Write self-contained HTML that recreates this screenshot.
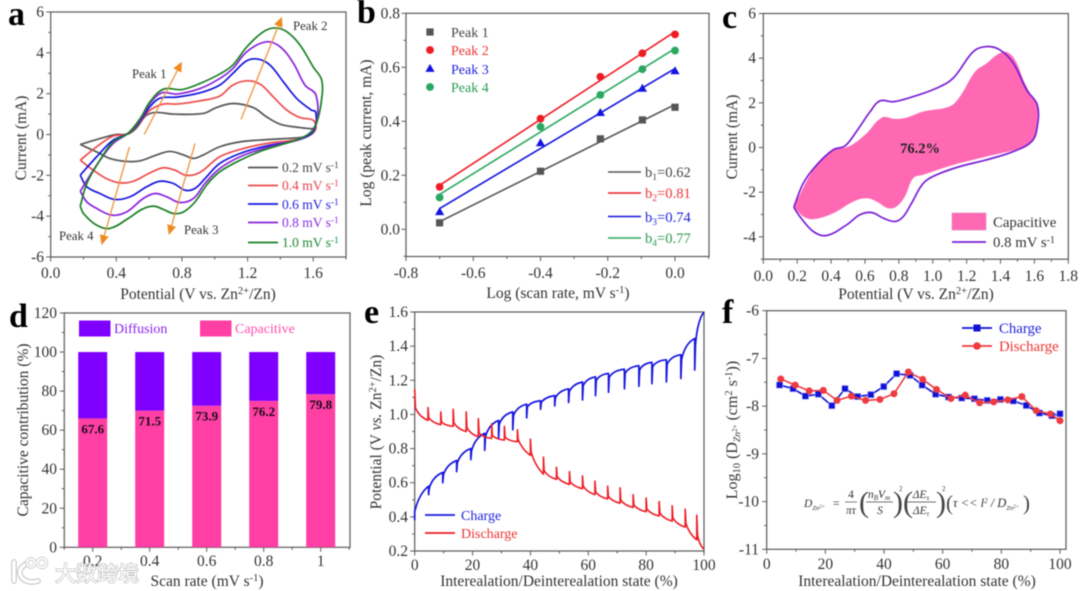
<!DOCTYPE html>
<html lang="en">
<head>
<meta charset="utf-8">
<title>Electrochemical kinetics figure</title>
<style>
html,body{margin:0;padding:0;background:#fff;width:1080px;height:591px;overflow:hidden}
svg{display:block;filter:blur(.42px)}
text{font-family:"Liberation Serif","Noto Serif CJK SC",serif;fill:#333}
.t{font-size:15.5px}
.l{font-size:13.5px}
.pk{font-size:12.8px}
.lb{font-size:14px}
.lb2{font-size:14.6px}
.lc{font-size:14.8px}
.k{font-size:34px;font-weight:bold;fill:#000}
.wm{font-family:"Liberation Sans","Noto Sans CJK SC",sans-serif;font-size:21px;fill:#fff;stroke:#bbb;stroke-width:1.4;paint-order:stroke}
.fm{font-size:11.5px;font-style:italic;fill:#333}
.fp{font-size:30px;font-weight:normal;fill:#444;font-style:normal}
</style>
</head>
<body>
<svg id="fig" xmlns="http://www.w3.org/2000/svg" width="1080" height="591" viewBox="0 0 1080 591">
<rect width="1080" height="591" fill="#fff"/>

<g id="pa"></g>
<g id="pb"></g>
<g id="pc"></g>
<g id="pd"></g>
<g id="pe"></g>
<g id="pf"></g>

<text class="k" x="8" y="25">a</text>
<text class="k" x="357" y="23">b</text>
<text class="k" x="722" y="28">c</text>
<text class="k" x="9" y="327">d</text>
<text class="k" x="364" y="323">e</text>
<text class="k" x="722" y="323">f</text>

<!-- axis titles -->
<text class="t" x="198" y="299" text-anchor="middle">Potential (V vs. Zn<tspan dy="-5" font-size="10.5">2+</tspan><tspan dy="5">/Zn)</tspan></text>
<text class="t" transform="translate(26,138) rotate(-90)" text-anchor="middle">Current (mA)</text>
<text class="t" x="558" y="298" text-anchor="middle">Log (scan rate, mV s<tspan dy="-5" font-size="10.5">-1</tspan><tspan dy="5">)</tspan></text>
<text class="t" transform="translate(371,133) rotate(-90)" text-anchor="middle">Log (peak current, mA)</text>
<text class="t" x="916" y="299" text-anchor="middle">Potential (V vs. Zn<tspan dy="-5" font-size="10.5">2+</tspan><tspan dy="5">/Zn)</tspan></text>
<text class="t" transform="translate(737,137) rotate(-90)" text-anchor="middle">Current (mA)</text>
<text class="t" x="207" y="586" text-anchor="middle">Scan rate (mV s<tspan dy="-5" font-size="10.5">-1</tspan><tspan dy="5">)</tspan></text>
<text class="t" transform="translate(28,430) rotate(-90)" text-anchor="middle">Capacitive contribution (%)</text>
<text class="t" x="559" y="586" text-anchor="middle">Interealation/Deinterealation state (%)</text>
<text class="t" transform="translate(381,432) rotate(-90)" text-anchor="middle">Potential (V <tspan font-style="italic">vs.</tspan> Zn<tspan dy="-5" font-size="10.5">2+</tspan><tspan dy="5">/Zn)</tspan></text>
<text class="t" x="917" y="586" text-anchor="middle">Interealation/Deinterealation state (%)</text>
<text transform="translate(737,430) rotate(-90)" text-anchor="middle" font-size="16">Log<tspan dy="3" font-size="10.5">10</tspan><tspan dy="-3"> (D</tspan><tspan dy="3" font-size="9.5" font-style="italic">Zn</tspan><tspan dy="-3" font-size="7">2+</tspan><tspan dy="0"> (cm</tspan><tspan dy="-5" font-size="10.5">2</tspan><tspan dy="5"> s</tspan><tspan dy="-5" font-size="10.5">-1</tspan><tspan dy="5">))</tspan></text>

<!-- panel a annotations -->
<g>
<text class="pk" x="132" y="78">Peak 1</text>
<text class="pk" x="293" y="30">Peak 2</text>
<text class="pk" x="184" y="234">Peak 3</text>
<text class="pk" x="59" y="240">Peak 4</text>
</g>
<g>
<text class="l" x="282" y="172" style="fill:#444">0.2 mV s<tspan dy="-4" font-size="9.5">-1</tspan></text>
<text class="l" x="282" y="190" style="fill:#e8404a">0.4 mV s<tspan dy="-4" font-size="9.5">-1</tspan></text>
<text class="l" x="282" y="209" style="fill:#2222dd">0.6 mV s<tspan dy="-4" font-size="9.5">-1</tspan></text>
<text class="l" x="282" y="227" style="fill:#8a2be2">0.8 mV s<tspan dy="-4" font-size="9.5">-1</tspan></text>
<text class="l" x="282" y="247" style="fill:#1a8a30">1.0 mV s<tspan dy="-4" font-size="9.5">-1</tspan></text>
</g>

<!-- panel b legend -->
<g>
<text class="lb" x="451" y="37" style="fill:#444">Peak 1</text>
<text class="lb" x="451" y="55" style="fill:#ee3333">Peak 2</text>
<text class="lb" x="451" y="74" style="fill:#2222dd">Peak 3</text>
<text class="lb" x="451" y="92" style="fill:#2a9a50">Peak 4</text>
<text class="lb2" x="645" y="177" style="fill:#444">b<tspan dy="3" font-size="9.5">1</tspan><tspan dy="-3">=0.62</tspan></text>
<text class="lb2" x="645" y="198" style="fill:#ee3333">b<tspan dy="3" font-size="9.5">2</tspan><tspan dy="-3">=0.81</tspan></text>
<text class="lb2" x="645" y="222" style="fill:#2222dd">b<tspan dy="3" font-size="9.5">3</tspan><tspan dy="-3">=0.74</tspan></text>
<text class="lb2" x="645" y="243" style="fill:#2a9a50">b<tspan dy="3" font-size="9.5">4</tspan><tspan dy="-3">=0.77</tspan></text>
</g>

<!-- panel c legend -->
<g>
<rect x="952" y="213" width="34" height="17" fill="#ff69b4" stroke="#d98ab8" stroke-width=".6"/>
<text class="lc" x="993" y="227">Capacitive</text>
<line x1="952" y1="242" x2="986" y2="242" stroke="#7a1fd8" stroke-width="1.7"/>
<text class="lc" x="993" y="247">0.8 mV s<tspan dy="-4" font-size="10">-1</tspan></text>
</g>

<!-- panel e legend -->
<g>
<line x1="425" y1="515" x2="455" y2="515" stroke="#1818e0" stroke-width="1.7"/>
<text class="lb" x="461" y="520" style="fill:#2222dd">Charge</text>
<line x1="425" y1="533" x2="455" y2="533" stroke="#ee1c24" stroke-width="1.7"/>
<text class="lb" x="461" y="538" style="fill:#ee3333">Discharge</text>
</g>

<!-- panel f legend -->
<g>
<line x1="962" y1="328" x2="992" y2="328" stroke="#1010d8" stroke-width="1.7"/>
<rect x="973.5" y="324.5" width="7" height="7" fill="#1010d8"/>
<text class="lc" x="999" y="333" style="fill:#2222dd">Charge</text>
<line x1="962" y1="346" x2="992" y2="346" stroke="#ee3a40" stroke-width="1.7"/>
<circle cx="977" cy="346" r="3.8" fill="#ee3a40"/>
<text class="lc" x="999" y="351" style="fill:#ee3333">Discharge</text>
</g>

<!-- panel f formula -->
<g>
<text class="fm" x="804" y="507">D<tspan dy="3" font-size="6.5">Zn</tspan><tspan dy="-2" font-size="5">2+</tspan></text>
<text class="fm" x="833" y="507" style="font-style:normal">=</text>
<text class="fm" x="851" y="498" text-anchor="middle" style="font-style:normal">4</text>
<text class="fm" x="851" y="514" text-anchor="middle">πτ</text>
<line x1="845" y1="502" x2="857" y2="502" stroke="#444" stroke-width=".7"/>
<text class="fp" x="859" y="512">(</text>
<text class="fm" x="879" y="498" text-anchor="middle">n<tspan dy="2" font-size="7">B</tspan><tspan dy="-2">V</tspan><tspan dy="2" font-size="7">m</tspan></text>
<text class="fm" x="880" y="514" text-anchor="middle">S</text>
<line x1="866" y1="502" x2="893" y2="502" stroke="#444" stroke-width=".7"/>
<text class="fp" x="893" y="512">)</text>
<text class="fm" x="899" y="491" style="font-size:7px;font-style:normal">2</text>
<text class="fp" x="903" y="512">(</text>
<text class="fm" x="921" y="498" text-anchor="middle">ΔE<tspan dy="2" font-size="7">s</tspan></text>
<text class="fm" x="921" y="514" text-anchor="middle">ΔE<tspan dy="2" font-size="7">τ</tspan></text>
<line x1="907" y1="502" x2="936" y2="502" stroke="#444" stroke-width=".7"/>
<text class="fp" x="936" y="512">)</text>
<text class="fm" x="942" y="491" style="font-size:7px;font-style:normal">2</text>
<text class="fp" x="946" y="510" style="font-size:21px">(</text>
<text class="fm" x="953" y="507" style="font-size:12.5px">τ &lt;&lt; l<tspan dy="-4" font-size="7">2</tspan><tspan dy="4"> / D</tspan><tspan dy="3" font-size="6.5">Zn</tspan><tspan dy="-2" font-size="5">2+</tspan></text>
<text class="fp" x="1023" y="510" style="font-size:21px">)</text>
</g>

<g id="pcl">
<text x="920" y="153" text-anchor="middle" font-size="14.5" font-weight="bold" style="fill:#222">76.2%</text>
</g>

<!-- watermark -->
<g id="wm" opacity=".9">
<path d="M14 562 V581 M26 564 Q16 570 22 578 Q28 584 38 581" fill="none" stroke="#bbb" stroke-width="5.5" stroke-linecap="round"/>
<path d="M14 562 V581 M26 564 Q16 570 22 578 Q28 584 38 581" fill="none" stroke="#fff" stroke-width="3.5" stroke-linecap="round"/>
<circle cx="31" cy="563" r="4" fill="none" stroke="#bbb" stroke-width="3.4"/>
<circle cx="42" cy="563" r="4.5" fill="none" stroke="#bbb" stroke-width="3.4"/>
<circle cx="31" cy="563" r="4" fill="none" stroke="#fff" stroke-width="2"/>
<circle cx="42" cy="563" r="4.5" fill="none" stroke="#fff" stroke-width="2"/>
<text class="wm" x="55" y="581">大数跨境</text>
</g>
</svg>

<script>
/* ---------- panel a: CV curves (V, mA) ---------- */
const aXTicks=[0,0.4,0.8,1.2,1.6];
const aYTicks=[-6,-4,-2,0,2,4,6];
const cv02V=[.18,.30,.40,.47,.52,.585,.646,.748,.93,1.01,1.11,1.235,1.315,1.40,1.52,1.59,1.61,1.61,1.58,1.52,1.315,1.154,1.03,.93,.87,.81,.727,.646,.545,.463,.36,.28,.18];
const cv02I=[-.49,-.2,0,.02,.3,.95,1.08,1.0,1.03,1.32,1.52,1.32,.87,.5,.34,.28,.3,.18,-.03,-.15,-.25,-.36,-.6,-1.0,-1.17,-1.0,-.83,-1.0,-1.29,-1.32,-1.17,-.85,-.49];
const cv04V=[.18,.28,.38,.47,.545,.605,.687,.768,.91,1.03,1.11,1.195,1.276,1.357,1.44,1.52,1.6,1.617,1.61,1.57,1.48,1.315,1.154,1.03,.93,.88,.82,.758,.687,.605,.504,.423,.34,.26,.18];
const cv04I=[-1.26,-.6,-.08,.05,.62,1.19,1.49,1.49,1.65,1.88,2.42,2.63,2.47,1.84,1.19,.83,.7,.38,.2,-.08,-.28,-.44,-.73,-1.09,-1.75,-1.96,-1.99,-1.75,-1.63,-1.88,-2.29,-2.37,-2.16,-1.75,-1.26];
const cv06V=[.18,.28,.38,.47,.545,.605,.666,.768,.91,1.03,1.11,1.195,1.266,1.337,1.418,1.5,1.59,1.615,1.61,1.56,1.46,1.315,1.154,1.03,.94,.88,.82,.748,.666,.585,.484,.39,.30,.22,.18];
const cv06I=[-1.99,-1.09,-.28,.05,.67,1.36,1.78,1.83,2.04,2.42,2.99,3.61,3.69,3.4,2.58,1.76,1.19,1.11,.29,-.11,-.36,-.56,-.93,-1.42,-2.16,-2.64,-2.73,-2.4,-2.29,-2.56,-3.05,-3.18,-2.89,-2.56,-1.99];
const cv08V=[.18,.28,.38,.47,.545,.605,.677,.768,.91,1.03,1.11,1.195,1.315,1.40,1.48,1.55,1.617,1.617,1.55,1.44,1.315,1.154,1.03,.94,.87,.788,.707,.636,.565,.463,.372,.28,.22,.18];
const cv08I=[-2.78,-1.5,-.44,.05,.73,1.52,2.04,1.98,2.25,2.74,3.23,4.05,4.54,4.29,3.48,2.42,1.93,.54,-.11,-.41,-.64,-1.09,-1.67,-2.4,-3.13,-3.33,-3.05,-2.89,-3.13,-3.79,-3.95,-3.62,-3.3,-2.78];
const cv10V=[.18,.22,.30,.38,.47,.545,.605,.687,.8,.91,1.03,1.11,1.195,1.296,1.367,1.44,1.52,1.6,1.652,1.648,1.62,1.59,1.52,1.418,1.296,1.154,1.03,.95,.88,.81,.748,.687,.626,.555,.473,.36,.28,.2,.18];
const cv10I=[-3.51,-2.4,-1.26,-.36,.05,.78,1.6,2.22,2.2,2.5,2.96,3.4,4.29,5.03,5.22,5.03,4.38,3.31,2.66,1.52,.54,.13,-.2,-.47,-.77,-1.26,-1.83,-2.48,-3.3,-3.79,-3.87,-3.67,-3.51,-3.67,-4.11,-4.6,-4.44,-3.87,-3.51];
const aLegendRates=['0.2','0.4','0.6','0.8','1.0'];

/* ---------- panel b ---------- */
const bXTicks=[-0.8,-0.6,-0.4,-0.2,0];
const bYTicks=[0,0.2,0.4,0.6,0.8];
const logRate=[-0.7,-0.4,-0.222,-0.097,0];
const bPeak1=[.024,.215,.335,.405,.452];
const bPeak2=[.157,.41,.565,.652,.722];
const bPeak3=[.065,.32,.432,.522,.587];
const bPeak4=[.118,.38,.498,.593,.662];

/* ---------- panel c ---------- */
const cXTicks=[0,0.2,0.4,0.6,0.8,1.0,1.2,1.4,1.6,1.8];
const cYTicks=[-4,-2,0,2,4,6];
const capV=[.18,.295,.393,.423,.472,.53,.61,.70,.777,.846,.944,1.10,1.16,1.25,1.32,1.387,1.436,1.485,1.544,1.613,1.62,1.613,1.594,1.515,1.318,1.12,.944,.885,.836,.787,.738,.669,.61,.531,.413,.295,.236,.18];
const capI=[-2.64,-1,-.18,-.06,-.03,.15,.64,1.34,1.28,1.34,1.61,1.84,2.28,3.4,3.78,4.19,4.27,3.93,2.88,1.94,1.9,.94,.34,-.03,-.4,-.78,-1.22,-1.37,-2.19,-2.64,-2.72,-2.42,-2.27,-2.42,-2.94,-3.21,-3.09,-2.64];
const scanV=[.18,.236,.315,.413,.482,.55,.63,.689,.767,.885,1.023,1.12,1.24,1.318,1.397,1.475,1.554,1.617,1.617,1.584,1.475,1.318,1.16,1.023,.944,.875,.826,.777,.708,.639,.57,.492,.374,.295,.216,.18];
const scanI=[-2.67,-1.6,-.78,-.1,.07,.72,1.6,2.09,2.05,2.28,2.66,3.1,4.3,4.52,4.37,3.78,2.58,1.91,.94,.27,-.18,-.55,-.85,-1.22,-1.6,-2.49,-3.09,-3.31,-3.16,-2.91,-3.01,-3.46,-3.94,-3.76,-3.09,-2.67];

/* ---------- panel d ---------- */
const dCategories=['0.2','0.4','0.6','0.8','1'];
const dCapacitive=[66,70,72.5,75,78.4];
const dDiffusion=[34,30,27.5,25,21.6];
const dPrinted=['67.6','71.5','73.9','76.2','79.8'];
const dYTicks=[0,20,40,60,80,100,120];

/* ---------- panel e ---------- */
const eXTicks=[0,20,40,60,80,100];
const eYTicks=[0.2,0.4,0.6,0.8,1.0,1.2,1.4,1.6];
const chargeX=[0,4.8,9.7,14.5,19.4,24.2,29,33.9,38.7,43.5,48.4,53.2,58,62.5,67,72.5,77.5,82,87,92,96.8,100];
const chargePeak=[.43,.58,.66,.73,.80,.89,.965,1.015,1.06,1.08,1.11,1.15,1.19,1.22,1.24,1.265,1.285,1.305,1.32,1.35,1.445,1.6];
const chargeLow=[.38,.53,.60,.665,.735,.79,.86,.91,.98,1.03,1.05,1.07,1.085,1.11,1.13,1.15,1.165,1.18,1.19,1.21,1.26,1.6];
const dischargeX=[0,4.6,9,13.3,17.8,22,26.6,31,35.5,40,44.5,49,53.5,58,62.3,66.7,71,75.5,80,84.5,89,93.5,97.5,100];
const dischargeBase=[1.01,.965,.94,.93,.90,.87,.86,.85,.84,.76,.65,.62,.59,.565,.53,.505,.48,.455,.43,.405,.375,.34,.265,.21];
const dischargeTop=[1.15,1.04,1.015,1.03,1.015,.975,.945,.93,.91,.855,.75,.69,.665,.64,.61,.58,.57,.53,.51,.49,.465,.445,.41,.21];

/* ---------- panel f ---------- */
const fXTicks=[0,20,40,60,80,100];
const fYTicks=[-11,-10,-9,-8,-7,-6];
const fChargeX=[4.4,9,13.2,17.6,22.2,26.7,31,35.5,39.9,44.3,48.9,53,57.6,62,66.5,70.8,75.2,79.7,84.1,88.5,93,97.2,100];
const fChargeY=[-7.557,-7.634,-7.79,-7.75,-7.99,-7.634,-7.80,-7.76,-7.59,-7.32,-7.355,-7.56,-7.75,-7.81,-7.83,-7.845,-7.88,-7.86,-7.89,-7.985,-8.145,-8.2,-8.16];
const fDischargeX=[4.8,9.7,14.5,19.3,24,28.9,33.7,38.6,43.4,48.3,53.2,57.9,62.8,67.7,72.6,77.4,82.2,87,91.9,96.7,100];
const fDischargeY=[-7.43,-7.56,-7.68,-7.67,-7.88,-7.79,-7.88,-7.86,-7.74,-7.285,-7.44,-7.65,-7.84,-7.77,-7.93,-7.91,-7.87,-7.80,-8.095,-8.165,-8.305];

/* ---------- helpers ---------- */
const NS='http://www.w3.org/2000/svg';
const FRAME='#5a5a5a';
function add(parent,tag,attrs,name,txt){
  const el=document.createElementNS(NS,tag);
  for(const k in attrs) el.setAttribute(k,attrs[k]);
  
  
  if(txt!==undefined) el.textContent=txt;
  parent.appendChild(el);
  return el;
}
function scale(d0,d1,r0,r1){return v=>r0+(v-d0)*(r1-r0)/(d1-d0);}
/* spline whose tangents are unit-direction, sized to each segment, so uneven point spacing does not kink */
function smooth(xs,ys,sx,sy,k){
  const p=xs.map((x,i)=>[sx(x),sy(ys[i])]);
  const n=p.length;
  const dir=i=>{
    const a=p[Math.max(i-1,0)],c=p[Math.min(i+1,n-1)];
    const dx=c[0]-a[0],dy=c[1]-a[1],m=Math.hypot(dx,dy)||1;
    return [dx/m,dy/m];
  };
  let d='M'+p[0][0].toFixed(2)+' '+p[0][1].toFixed(2);
  for(let i=0;i<n-1;i++){
    const b=p[i],c=p[i+1],L=Math.hypot(c[0]-b[0],c[1]-b[1])*k,u=dir(i),v=dir(i+1);
    d+=' C'+(b[0]+u[0]*L).toFixed(2)+' '+(b[1]+u[1]*L).toFixed(2)+' '+
       (c[0]-v[0]*L).toFixed(2)+' '+(c[1]-v[1]*L).toFixed(2)+' '+c[0].toFixed(2)+' '+c[1].toFixed(2);
  }
  return d;
}
function polyline(xs,ys,sx,sy){
  return xs.map((x,i)=>(i?'L':'M')+sx(x).toFixed(2)+' '+sy(ys[i]).toFixed(2)).join(' ');
}
function frame(g,px,sx,sy,o){
  add(g,'rect',{x:px.l,y:px.t,width:px.r-px.l,height:px.b-px.t,fill:'none',stroke:FRAME,'stroke-width':1.2},o.id+'-plot-frame');
  const tick=(x1,y1,x2,y2,n)=>add(g,'line',{x1,y1,x2,y2,stroke:FRAME,'stroke-width':1},n);
  o.xMajor.forEach(v=>tick(sx(v),px.b,sx(v),px.b+4.5,o.id+'-x-tick'));
  o.xMinor.forEach(v=>tick(sx(v),px.b,sx(v),px.b+2.5,o.id+'-x-minor-tick'));
  o.yMajor.forEach(v=>tick(px.l,sy(v),px.l-4.5,sy(v),o.id+'-y-tick'));
  o.yMinor.forEach(v=>tick(px.l,sy(v),px.l-2.5,sy(v),o.id+'-y-minor-tick'));
  o.xMajor.forEach((v,i)=>add(g,'text',{x:sx(v),y:o.xBase,'text-anchor':'middle','font-size':15.5},o.id+'-x-tick-label',o.xFmt(v,i)));
  o.yMajor.forEach((v,i)=>add(g,'text',{x:o.yRight,y:sy(v)+5,'text-anchor':'end','font-size':15.5},o.id+'-y-tick-label',o.yFmt(v,i)));
}
function mids(t){const m=[];for(let i=0;i<t.length-1;i++)m.push((t[i]+t[i+1])/2);return m;}
function fit(xs,ys){
  const n=xs.length,mx=xs.reduce((a,b)=>a+b)/n,my=ys.reduce((a,b)=>a+b)/n;
  let sxy=0,sxx=0;xs.forEach((x,i)=>{sxy+=(x-mx)*(ys[i]-my);sxx+=(x-mx)*(x-mx);});
  const m=sxy/sxx;return x=>my+m*(x-mx);
}
const f1=v=>v.toFixed(1);
const f0=v=>String(v);

/* ---------- panel a ---------- */
(function(){
  const g=document.getElementById('pa');
  const px={l:50.7,r:346,t:12,b:257};
  const sx=scale(0,1.8,px.l,px.r),sy=scale(-6,6,px.b,px.t);
  frame(g,px,sx,sy,{id:'a',xMajor:aXTicks,xMinor:mids(aXTicks).concat([1.8]),yMajor:aYTicks,yMinor:mids(aYTicks),xBase:278,yRight:44,xFmt:f1,yFmt:f0});
  const curves=[[cv02V,cv02I,'#555555','curve-0-2'],[cv04V,cv04I,'#ee4b4b','curve-0-4'],[cv06V,cv06I,'#1414e0','curve-0-6'],[cv08V,cv08I,'#8a22dd','curve-0-8'],[cv10V,cv10I,'#1a8025','curve-1-0']];
  curves.forEach(c=>add(g,'path',{d:smooth(c[0],c[1],sx,sy,.35),fill:'none',stroke:c[2],'stroke-width':1.7,'stroke-linejoin':'round'},c[3]));
  curves.forEach((c,i)=>{
    const yy=[167.5,185.5,204,222.5,242.5][i];
    add(g,'line',{x1:248,y1:yy,x2:278,y2:yy,stroke:c[2],'stroke-width':1.7},'legend-line-'+aLegendRates[i]);
  });
  const arrows=[[.57,-.0,.80,3.57,'arrow-peak-1'],[1.16,.74,1.41,5.77,'arrow-peak-2'],[.88,-.44,.72,-4.93,'arrow-peak-3'],[.48,-.61,.31,-5.42,'arrow-peak-4']];
  arrows.forEach(a=>{
    const x1=sx(a[0]),y1=sy(a[1]),x2=sx(a[2]),y2=sy(a[3]);
    const ang=Math.atan2(y2-y1,x2-x1),L=10,W=4.5;
    const bx=x2-L*Math.cos(ang),by=y2-L*Math.sin(ang);
    add(g,'line',{x1,y1,x2:bx,y2:by,stroke:'#f0923a','stroke-width':1.3},a[4]);
    add(g,'path',{d:`M${x2} ${y2} L${bx-W*Math.sin(ang)} ${by+W*Math.cos(ang)} L${bx+W*Math.sin(ang)} ${by-W*Math.cos(ang)} Z`,fill:'#ef8a20'},a[4]+'-head');
  });
})();

/* ---------- panel b ---------- */
(function(){
  const g=document.getElementById('pb');
  const px={l:406,r:709,t:13.3,b:256.5};
  const sx=scale(-0.8,0,406,675),sy=scale(0,0.8,229.3,13.3);
  const yf=v=>v.toFixed(1);
  frame(g,px,sx,sy,{id:'b',xMajor:bXTicks,xMinor:mids(bXTicks).concat([.1]),yMajor:bYTicks,yMinor:mids(bYTicks).concat([-.1]),xBase:278,yRight:400,xFmt:f1,yFmt:yf});
  const ser=[[bPeak1,'#555555','#555555','peak-1','s'],[bPeak2,'#ee1c24','#ee1c24','peak-2','c'],[bPeak3,'#1414e0','#1414e0','peak-3','t'],[bPeak4,'#2aa860','#2aa860','peak-4','c']];
  const marker=(x,y,t,col,n)=>{
    if(t==='s') add(g,'rect',{x:x-3.6,y:y-3.6,width:7.2,height:7.2,fill:col},n);
    else if(t==='c') add(g,'circle',{cx:x,cy:y,r:3.9,fill:col},n);
    else add(g,'path',{d:`M${x} ${y-4.6} L${x+4.6} ${y+3.4} L${x-4.6} ${y+3.4} Z`,fill:col},n);
  };
  ser.forEach(s=>{
    const fn=fit(logRate,s[0]);
    add(g,'line',{x1:sx(-.7),y1:sy(fn(-.7)),x2:sx(0),y2:sy(fn(0)),stroke:s[1],'stroke-width':1.6},s[3]+'-fit-line');
    s[0].forEach((v,i)=>marker(sx(logRate[i]),sy(v),s[4],s[2],s[3]+'-point'));
  });
  ser.forEach((s,i)=>{
    marker(430,[32,50,68.5,87][i],s[4],s[2],'legend-marker-'+s[3]);
    const yy=[172,193,216.5,238][i];
    add(g,'line',{x1:608,y1:yy,x2:641,y2:yy,stroke:s[1],'stroke-width':1.6},'legend-line-'+s[3]);
  });
})();

/* ---------- panel c ---------- */
(function(){
  const g=document.getElementById('pc');
  const px={l:763.3,r:1068.3,t:13.5,b:259.2};
  const sx=scale(0,1.8,px.l,px.r),sy=scale(-5,6,px.b,px.t);
  frame(g,px,sx,sy,{id:'c',xMajor:cXTicks,xMinor:mids(cXTicks),yMajor:cYTicks,yMinor:mids(cYTicks).concat([-5]),xBase:281,yRight:756,xFmt:f1,yFmt:f0});
  add(g,'path',{d:smooth(capV,capI,sx,sy,.35)+' Z',fill:'#ff69b4'},'capacitive-area');
  add(g,'path',{d:smooth(scanV,scanI,sx,sy,.35),fill:'none',stroke:'#7a1fd8','stroke-width':1.7},'cv-curve-0-8');
})();

/* ---------- panel d ---------- */
(function(){
  const g=document.getElementById('pd');
  const px={l:64.3,r:350,t:313,b:547.3};
  const cx=i=>92.7+i*57;
  const sy=scale(0,120,px.b,px.t);
  const idx=dCategories.map((_,i)=>i);
  const minor=[-.5].concat(idx.map(i=>i+.5));
  frame(g,px,cx,sy,{id:'d',xMajor:idx,xMinor:minor,yMajor:dYTicks,yMinor:mids(dYTicks),xBase:566,yRight:57,xFmt:(v,i)=>dCategories[i],yFmt:f0});
  dCategories.forEach((c,i)=>{
    const x=cx(i)-14.5;
    add(g,'rect',{x,y:sy(dCapacitive[i]),width:29,height:sy(0)-sy(dCapacitive[i]),fill:'#ff3fa4'},'capacitive-bar-'+c);
    add(g,'rect',{x,y:sy(dCapacitive[i]+dDiffusion[i]),width:29,height:sy(dCapacitive[i])-sy(dCapacitive[i]+dDiffusion[i]),fill:'#8000ff'},'diffusion-bar-'+c);
    add(g,'text',{x:cx(i),y:sy(dCapacitive[i])+15,'text-anchor':'middle','font-size':13,'font-weight':'bold',style:'fill:#1a0a18'},'bar-value-'+c,dPrinted[i]);
  });
  add(g,'rect',{x:79,y:320.5,width:31.5,height:16,fill:'#8000ff'},'legend-diffusion-swatch');
  add(g,'text',{x:114,y:333,'font-size':14,style:'fill:#8a22ee'},'legend-diffusion','Diffusion');
  add(g,'rect',{x:200,y:320.5,width:31.5,height:16,fill:'#ff3fa4'},'legend-capacitive-swatch-d');
  add(g,'text',{x:235,y:333,'font-size':14,style:'fill:#ff4fb0'},'legend-capacitive-d','Capacitive');
})();

/* ---------- panel e ---------- */
(function(){
  const g=document.getElementById('pe');
  const px={l:414.7,r:704,t:312,b:551};
  const sx=scale(0,100,px.l,px.r),sy=scale(.2,1.6,px.b,px.t);
  frame(g,px,sx,sy,{id:'e',xMajor:eXTicks,xMinor:mids(eXTicks),yMajor:eYTicks,yMinor:mids(eYTicks),xBase:570,yRight:408,xFmt:f0,yFmt:f1});
  let d='M'+sx(chargeX[0])+' '+sy(chargeLow[0]);
  chargeX.forEach((x,i)=>{
    if(i===chargeX.length-1) return;
    const pk=chargePeak[i],lo=chargeLow[i],nx=chargeX[i+1],np=chargePeak[i+1];
    if(i===0){d+=' L'+sx(x)+' '+sy(pk);}
    else{d+=' L'+sx(x)+' '+sy(lo)+' L'+sx(x+.25)+' '+sy(pk-(pk-lo)*.2);}
    d+=' Q'+sx(x+(nx-x)*.3)+' '+sy(pk+(np-pk)*.7)+' '+sx(nx)+' '+sy(np);
  });
  add(g,'path',{d,fill:'none',stroke:'#1414e0','stroke-width':1.7,'stroke-linejoin':'round'},'charge-curve');
  let e='M'+sx(dischargeX[0])+' '+sy(dischargeTop[0]);
  dischargeX.forEach((x,i)=>{
    if(i===dischargeX.length-1) return;
    const b=dischargeBase[i],t=dischargeTop[i],nx=dischargeX[i+1],nb=dischargeBase[i+1];
    if(i>0) e+=' L'+sx(x)+' '+sy(t);
    e+=' L'+sx(x+.25)+' '+sy(b+(t-b)*.2);
    e+=' Q'+sx(x+(nx-x)*.35)+' '+sy(b+(nb-b)*.55)+' '+sx(nx)+' '+sy(nb);
  });
  add(g,'path',{d:e,fill:'none',stroke:'#ee1c24','stroke-width':1.6,'stroke-linejoin':'round'},'discharge-curve');
})();

/* ---------- panel f ---------- */
(function(){
  const g=document.getElementById('pf');
  const px={l:766.7,r:1066,t:310.7,b:549.3};
  const sx=scale(0,100,766.7,1060),sy=scale(-11,-6,px.b,px.t);
  frame(g,px,sx,sy,{id:'f',xMajor:fXTicks,xMinor:mids(fXTicks),yMajor:fYTicks,yMinor:mids(fYTicks),xBase:569,yRight:759,xFmt:f0,yFmt:f0});
  add(g,'path',{d:polyline(fChargeX,fChargeY,sx,sy),fill:'none',stroke:'#1010d8','stroke-width':1.6},'charge-line');
  fChargeX.forEach((x,i)=>add(g,'rect',{x:sx(x)-3.2,y:sy(fChargeY[i])-3.2,width:6.4,height:6.4,fill:'#1010d8',stroke:'#b8c0f8','stroke-width':.6},'charge-point'));
  add(g,'path',{d:polyline(fDischargeX,fDischargeY,sx,sy),fill:'none',stroke:'#ee3a40','stroke-width':1.6},'discharge-line');
  fDischargeX.forEach((x,i)=>add(g,'circle',{cx:sx(x),cy:sy(fDischargeY[i]),r:3.5,fill:'#ee3a40'},'discharge-point'));
})();
</script>
</body>
</html>
